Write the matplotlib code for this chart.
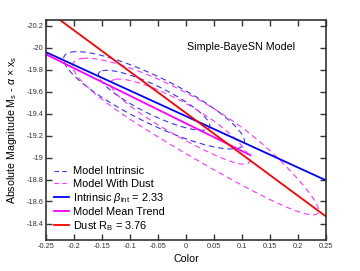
import numpy as np
import matplotlib
matplotlib.use("Agg")
import matplotlib.pyplot as plt
from matplotlib.lines import Line2D

plt.rcParams['font.family'] = ['Liberation Sans', 'DejaVu Sans']
plt.rcParams['mathtext.fontset'] = 'custom'
plt.rcParams['mathtext.rm'] = 'Liberation Sans'
plt.rcParams['mathtext.it'] = 'Liberation Sans:italic'
plt.rcParams['mathtext.bf'] = 'Liberation Sans:bold'

# ---- model parameters ----
beta_int = 2.33          # intrinsic slope
R_B = 3.76               # dust slope
c_mean = -0.057          # intrinsic colour mean
M_mean = -19.52          # intrinsic magnitude mean at c_mean
sigma_c = 0.066          # intrinsic colour scatter
sigma_eps = 0.095        # residual magnitude scatter
tau_E = 0.061            # dust exponential scale
contour_levels = [0.68, 0.95]

# lines: intercept at c=0 and slope, with colour range
blue_line = dict(intercept=-19.375, slope=beta_int, crange=[-0.25, 0.25])
trend_line = dict(intercept=-19.31, slope=2.51, crange=[-0.25, 0.115])
red_line = dict(intercept=-19.404, slope=R_B, crange=[-0.25, 0.25])

xticks = [-0.25, -0.2, -0.15, -0.1, -0.05, 0, 0.05, 0.1, 0.15, 0.2, 0.25]
yticks = [-20.2, -20, -19.8, -19.6, -19.4, -19.2, -19, -18.8, -18.6, -18.4]

fig = plt.figure(figsize=(3.6, 2.71), dpi=100)
ax = fig.add_axes([46/360, 1-240/271, 280/360, 220/271])

# grid for densities
cg = np.linspace(-0.35, 0.40, 401)
mg = np.linspace(-20.6, -17.8, 401)
C, M = np.meshgrid(cg, mg)
cov = np.array([[sigma_c**2, beta_int*sigma_c**2],
                [beta_int*sigma_c**2, beta_int**2*sigma_c**2 + sigma_eps**2]])
icov = np.linalg.inv(cov)
norm = 1.0/(2*np.pi*np.sqrt(np.linalg.det(cov)))

def gauss(dc, dm):
    q = icov[0, 0]*dc**2 + 2*icov[0, 1]*dc*dm + icov[1, 1]*dm**2
    return norm*np.exp(-0.5*q)

p_int = gauss(C - c_mean, M - M_mean)
Egrid = np.linspace(0, 0.8, 401)
dE = Egrid[1]-Egrid[0]
p_dust = np.zeros_like(C)
for E in Egrid:
    p_dust += np.exp(-E/tau_E)/tau_E * gauss(C - E - c_mean, M - R_B*E - M_mean) * dE

def hdr_levels(p, probs):
    flat = np.sort(p.ravel())[::-1]
    cs = np.cumsum(flat)
    cs /= cs[-1]
    return sorted([flat[np.searchsorted(cs, pr)] for pr in probs])

dash = (0, (5, 3.5))
ax.contour(C, M, p_int, levels=hdr_levels(p_int, contour_levels),
           colors='#3333ff', linewidths=0.8, linestyles=[dash])
ax.contour(C, M, p_dust, levels=hdr_levels(p_dust, contour_levels),
           colors='#ff33ff', linewidths=0.8, linestyles=[dash])

for ln, col in [(blue_line, '#0000ff'), (trend_line, '#ff00ff'), (red_line, '#ff0000')]:
    xs = np.array(ln['crange'])
    ax.plot(xs, ln['intercept'] + ln['slope']*xs, color=col, lw=1.3)

ax.set_xlim(-0.25, 0.25)
ax.set_ylim(-18.25, -20.25)
ax.set_xticks(xticks)
ax.set_xticklabels(['%g' % v for v in xticks])
ax.set_yticks(yticks)
ax.set_yticklabels(['%g' % v for v in yticks])
ax.tick_params(direction='in', length=4.5, width=1.0, labelsize=5.3, pad=2,
               top=True, right=True, colors='#333333', labelcolor='#333333')
for s in ax.spines.values():
    s.set_linewidth(1.2)
    s.set_color('#333333')

ax.set_xlabel('Color', fontsize=7.7, labelpad=3)
ax.set_ylabel(r'Absolute Magnitude M$_{\rm s}$ - $\alpha$ $\times$ x$_{\rm s}$', fontsize=7.7, labelpad=5)
ax.text((187-46)/280, (240-47)/220, 'Simple-BayeSN Model', transform=ax.transAxes,
        fontsize=7.7, ha='left', va='center')

handles = [Line2D([], [], color='#3333ff', lw=0.8, ls=(0, (4, 3))),
           Line2D([], [], color='#ff33ff', lw=0.8, ls=(0, (4, 3))),
           Line2D([], [], color='#0000ff', lw=1.3),
           Line2D([], [], color='#ff00ff', lw=1.3),
           Line2D([], [], color='#ff0000', lw=1.3)]
labels = ['Model Intrinsic', 'Model With Dust', r'Intrinsic $\beta_{\rm int}$ = 2.33',
          'Model Mean Trend', r'Dust R$_{\rm B}$ = 3.76']
ax.legend(handles, labels, loc='lower left', bbox_to_anchor=(8/280, 7/220),
          frameon=False, fontsize=7.9, handlelength=1.4, handletextpad=0.35,
          labelspacing=0.2, borderpad=0, borderaxespad=0)

fig.savefig('out.png', dpi=100)
